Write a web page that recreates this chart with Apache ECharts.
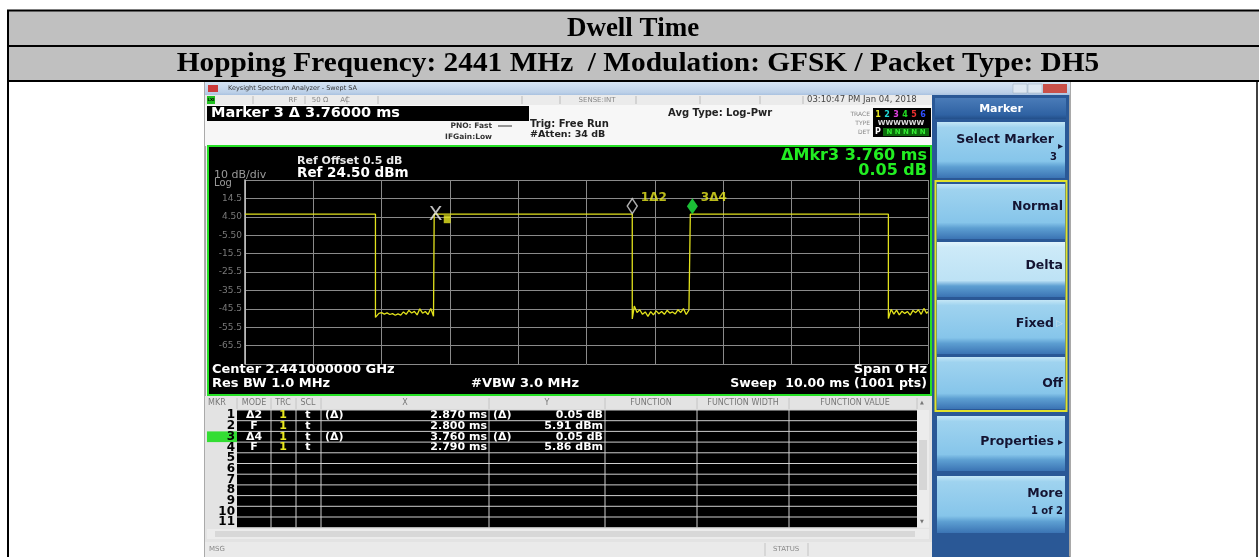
<!DOCTYPE html>
<html>
<head>
<meta charset="utf-8">
<title>Dwell Time</title>
<script src="https://cdn.jsdelivr.net/npm/echarts@6.0.0/dist/echarts.min.js"></script>
<style>
html, body { margin: 0; padding: 0; background: #fff; }
#chart { width: 1259px; height: 557px; }
</style>
</head>
<body>
<div id="chart"></div>
<script>
// ---- data ----
var titleText = 'Dwell Time';
var subTitleText = 'Hopping Frequency: 2441 MHz  / Modulation: GFSK / Packet Type: DH5';

// sweep 0..10 ms, ref 24.50 dBm, 10 dB/div
var sweepRange = [0, 10];
var refLevel = 24.5;
var yTickLabels = ['24.5', '14.5', '4.50', '-5.50', '-15.5', '-25.5', '-35.5', '-45.5', '-55.5', '-65.5', '-75.5'];

// burst level and edges (ms)
var pulseHigh = 5.9;
var pulseFall = [1.91, 5.67, 9.42];
var pulseRise = [2.77, 6.52];

// noise floor between bursts [ms, dBm]
var gapNoise1 = [[1.92, -50.2], [1.96, -48.0], [2.00, -47.6], [2.04, -48.4], [2.08, -47.7], [2.12, -48.6],
  [2.16, -48.1], [2.20, -49.0], [2.24, -48.3], [2.28, -48.9], [2.32, -47.2], [2.36, -48.5], [2.40, -46.4],
  [2.44, -47.8], [2.48, -46.9], [2.52, -48.8], [2.56, -45.5], [2.60, -47.9], [2.64, -47.0], [2.68, -48.6],
  [2.72, -45.3], [2.76, -49.5]];
var gapNoise2 = [[5.68, -51.0], [5.70, -44.0], [5.74, -47.5], [5.78, -46.0], [5.82, -48.5], [5.86, -47.2],
  [5.90, -49.6], [5.94, -47.0], [5.98, -48.8], [6.02, -46.6], [6.06, -48.2], [6.10, -47.0], [6.14, -48.5],
  [6.18, -46.3], [6.22, -47.8], [6.26, -47.2], [6.30, -48.3], [6.34, -46.0], [6.38, -47.5], [6.42, -45.4],
  [6.46, -48.6], [6.50, -46.2]];
var gapNoise3 = [[9.43, -50.8], [9.46, -45.8], [9.50, -48.4], [9.54, -46.2], [9.58, -48.8], [9.62, -46.8],
  [9.66, -48.0], [9.70, -47.0], [9.74, -48.9], [9.78, -46.4], [9.82, -47.6], [9.86, -46.0], [9.90, -48.5],
  [9.94, -45.3], [9.98, -48.0], [10.0, -47.0]];

// marker table
var mkrNum = ['1', '2', '3', '4', '5', '6', '7', '8', '9', '10', '11'];
var mkrMode = ['Δ2', 'F', 'Δ4', 'F'];
var mkrTrc = ['1', '1', '1', '1'];
var mkrScl = ['t', 't', 't', 't'];
var mkrXRef = ['(Δ)', '', '(Δ)', ''];
var mkrX = ['2.870 ms', '2.800 ms', '3.760 ms', '2.790 ms'];
var mkrYRef = ['(Δ)', '', '(Δ)', ''];
var mkrY = ['0.05 dB', '5.91 dBm', '0.05 dB', '5.86 dBm'];
// marker positions on the trace [ms, dBm]
var mkrPos = [[5.67, 5.96], [2.80, 5.91], [6.55, 5.91], [2.79, 5.86]];

var softKeys = ['Select Marker', 'Normal', 'Delta', 'Fixed', 'Off', 'Properties', 'More'];

// ---- build trace ----
var gaps = [gapNoise1, gapNoise2, gapNoise3];
var trace = [[sweepRange[0], pulseHigh]];
gaps.forEach(function (g, i) {
  trace.push([pulseFall[i], pulseHigh]);
  trace.push([pulseFall[i], g[0][1]]);
  g.forEach(function (p) { trace.push(p); });
  if (i < pulseRise.length) trace.push([pulseRise[i], pulseHigh]);
});

// ---- graphic helpers ----
var sans = '"DejaVu Sans", "Liberation Sans", sans-serif';
var serif = '"Liberation Serif", "Times New Roman", serif';
var G = [];
function rect(x, y, w, h, fill, stroke, lw, z) {
  G.push({ type: 'rect', z: z == null ? -5 : z, shape: { x: x, y: y, width: w, height: h },
    style: { fill: fill || 'none', stroke: stroke || null, lineWidth: lw || 0 } });
}
function line(x1, y1, x2, y2, color, lw, z) {
  G.push({ type: 'line', z: z == null ? -4 : z, shape: { x1: x1, y1: y1, x2: x2, y2: y2 },
    style: { stroke: color, lineWidth: lw || 1 } });
}
function text(x, y, s, font, color, align, sx) {
  G.push({ type: 'text', z: 20, x: x, y: y, scaleX: sx || 1,
    style: { text: s, font: font, fill: color, align: align || 'left', verticalAlign: 'middle' } });
}
function vgrad(c1, c2, c3) {
  return { type: 'linear', x: 0, y: 0, x2: 0, y2: 1,
    colorStops: [{ offset: 0, color: c1 }, { offset: 0.8, color: c2 }, { offset: 1, color: c3 }] };
}
function keyGrad(light) {
  return { type: 'linear', x: 0, y: 0, x2: 0, y2: 1,
    colorStops: [{ offset: 0, color: light ? '#e2f4fc' : '#c4e6f6' }, { offset: 0.1, color: light ? '#cdeaf8' : '#9fd3ef' },
      { offset: 0.7, color: light ? '#bde2f5' : '#86c5ea' }, { offset: 0.8, color: '#5d9fd2' }, { offset: 1, color: '#3b74b4' }] };
}

// document table
rect(7, 10, 1252, 71, '#c0c0c0');
line(7, 10.5, 1259, 10.5, '#000', 2);
line(7, 46, 1259, 46, '#000', 2);
line(7, 81, 1259, 81, '#000', 2);
line(8, 10, 8, 557, '#000', 2);
line(1257, 81, 1257, 557, '#000', 1.5);
text(633, 29, titleText, 'bold 27px ' + serif, '#000', 'center');
text(638, 64, subTitleText, 'bold 27px ' + serif, '#000', 'center', 1.087);

// analyzer window
rect(205, 82, 865, 475, '#f2f2f2', '#555', 1);
rect(205, 82, 865, 13, vgrad('#d6e4f3', '#bcd0e8', '#a9c2e0'));
rect(208, 85, 10, 7, '#cc3b3b');
text(228, 88.5, 'Keysight Spectrum Analyzer - Swept SA', '6.5px ' + sans, '#333');
rect(1013, 84, 14, 9, '#dde7f2', '#9ab', 0.5);
rect(1028, 84, 14, 9, '#dde7f2', '#9ab', 0.5);
rect(1043, 84, 24, 9, '#c95049');

// status row
rect(205, 95, 727, 10, '#ebebeb');
rect(207, 96, 8, 8, '#1fbf1f');
text(211, 100, 'LXI', 'bold 4px ' + sans, '#000', 'center');
[253, 305, 347, 378, 522, 560, 636, 700, 760, 803].forEach(function (x) { line(x, 96, x, 104, '#bbb', 1); });
text(293, 100, 'RF', '7px ' + sans, '#888', 'center');
text(320, 100, '50 Ω', '7px ' + sans, '#888', 'center');
text(345, 100, 'AC', '7px ' + sans, '#888', 'center');
text(597, 100, 'SENSE:INT', '7px ' + sans, '#888', 'center');
text(807, 100, '03:10:47 PM Jan 04, 2018', '8.5px ' + sans, '#444');

// marker header row
rect(205, 105, 727, 41, '#f7f7f7');
rect(207, 106, 322, 15, '#000');
text(211, 113.5, 'Marker 3 Δ 3.76000 ms', 'bold 14.5px ' + sans, '#fff');
text(492, 126, 'PNO: Fast', 'bold 7.5px ' + sans, '#333', 'right');
line(498, 126, 512, 126, '#333', 1);
text(492, 137, 'IFGain:Low', 'bold 7.5px ' + sans, '#333', 'right');
text(530, 124, 'Trig: Free Run', 'bold 10px ' + sans, '#222');
text(530, 135, '#Atten: 34 dB', 'bold 9.5px ' + sans, '#222');
text(668, 113, 'Avg Type: Log-Pwr', 'bold 10px ' + sans, '#222');
text(870, 114, 'TRACE', '6px ' + sans, '#888', 'right');
text(870, 123, 'TYPE', '6px ' + sans, '#888', 'right');
text(870, 132, 'DET', '6px ' + sans, '#888', 'right');
rect(873, 108, 58, 29, '#000');
['#e8e820', '#22d8d8', '#e040e0', '#22dd22', '#ee3030', '#3050ff'].forEach(function (c, i) {
  text(878 + i * 9, 115, String(i + 1), 'bold 8px ' + sans, c, 'center');
});
text(901, 123, 'WWWWWW', 'bold 7px ' + sans, '#ddd', 'center');
text(878, 132, 'P', 'bold 8px ' + sans, '#fff', 'center');
rect(883, 128, 46, 8, '#0b6a0b');
text(906, 132, 'N N N N N', 'bold 7px ' + sans, '#33ee33', 'center');

// graph panel
rect(208, 146, 723, 249, '#000', '#25e025', 2);
text(297, 161, 'Ref Offset 0.5 dB', 'bold 11px ' + sans, '#e8e8e8');
text(297, 173, 'Ref 24.50 dBm', 'bold 13.5px ' + sans, '#fff');
text(214, 175, '10 dB/div', '11px ' + sans, '#9a9a9a');
text(214, 183, 'Log', '10px ' + sans, '#9a9a9a');
text(927, 156, 'ΔMkr3 3.760 ms', 'bold 16px ' + sans, '#22ee22', 'right');
text(927, 171, '0.05 dB', 'bold 16px ' + sans, '#22ee22', 'right');
text(212, 370, 'Center 2.441000000 GHz', 'bold 13px ' + sans, '#fff');
text(212, 384, 'Res BW 1.0 MHz', 'bold 13px ' + sans, '#fff');
text(471, 384, '#VBW 3.0 MHz', 'bold 13px ' + sans, '#fff');
text(927, 370, 'Span 0 Hz', 'bold 13px ' + sans, '#fff', 'right');
text(927, 384, 'Sweep  10.00 ms (1001 pts)', 'bold 12.5px ' + sans, '#fff', 'right');

// marker table
var colSep = [237, 271, 296, 321, 489, 605, 697, 789, 917];
var rowTop = 410, rowH = 10.7;
var hdrFont = '8px ' + sans;
rect(205, 396, 727, 146, '#e3e3e3');
text(208, 403, 'MKR', hdrFont, '#777');
text(254, 403, 'MODE', hdrFont, '#777', 'center');
text(283, 403, 'TRC', hdrFont, '#777', 'center');
text(308, 403, 'SCL', hdrFont, '#777', 'center');
text(405, 403, 'X', hdrFont, '#777', 'center');
text(547, 403, 'Y', hdrFont, '#777', 'center');
text(651, 403, 'FUNCTION', hdrFont, '#777', 'center');
text(743, 403, 'FUNCTION WIDTH', hdrFont, '#777', 'center');
text(855, 403, 'FUNCTION VALUE', hdrFont, '#777', 'center');
text(922, 403, '▲', '5px ' + sans, '#777', 'center');
colSep.forEach(function (x) { line(x, 398, x, 409, '#c4c4c4', 1); });
rect(237, rowTop, 680, rowH * 11, '#000');
rect(207, rowTop + rowH * 2, 30, rowH, '#33dd33');
for (var r = 0; r <= 11; r++) line(237, rowTop + r * rowH, 917, rowTop + r * rowH, '#cfcfcf', 1);
colSep.slice(1, 8).forEach(function (x) { line(x, rowTop, x, rowTop + rowH * 11, '#cfcfcf', 1); });
var cellFont = 'bold 11px ' + sans;
mkrNum.forEach(function (n, i) {
  var y = rowTop + rowH * (i + 0.5);
  text(235, y, n, 'bold 12px ' + sans, '#000', 'right');
  if (i < mkrMode.length) {
    text(254, y, mkrMode[i], cellFont, '#fff', 'center');
    text(283, y, mkrTrc[i], cellFont, '#e8e820', 'center');
    text(308, y, mkrScl[i], cellFont, '#fff', 'center');
    text(325, y, mkrXRef[i], cellFont, '#fff');
    text(487, y, mkrX[i], cellFont, '#fff', 'right');
    text(493, y, mkrYRef[i], cellFont, '#fff');
    text(603, y, mkrY[i], cellFont, '#fff', 'right');
  }
});
rect(917, rowTop, 12, rowH * 11, '#ececec');
rect(919, 440, 8, 50, '#d6d6d6');
text(922, 522, '▼', '5px ' + sans, '#777', 'center');
rect(207, 529, 722, 10, '#ececec');
rect(215, 531, 700, 6, '#d8d8d8');
rect(205, 542, 727, 15, '#eaeaea');
text(209, 549, 'MSG', '7px ' + sans, '#888');
line(765, 543, 765, 556, '#c4c4c4', 1);
line(808, 543, 808, 556, '#c4c4c4', 1);
text(773, 549, 'STATUS', '7px ' + sans, '#888');

// soft keys
rect(932, 95, 137, 462, '#2a5896');
rect(935, 98, 131, 21, vgrad('#4a7bb8', '#2f62a3', '#234f8a'));
text(1001, 109, 'Marker', 'bold 11px ' + sans, '#fff', 'center');
var keyBoxes = [[122, 56], [184, 55], [242, 55], [300, 54], [357, 52], [416, 55], [476, 57]];
keyBoxes.forEach(function (b, i) {
  rect(937, b[0], 128, b[1], keyGrad(i === 2));
});
rect(935.5, 181, 131, 230, 'none', '#e2e22a', 2, -3);
var keyFont = 'bold 12.5px ' + sans, keyColor = '#141432';
text(1054, 140, softKeys[0], keyFont, keyColor, 'right');
text(1063, 146, '▸', '10px ' + sans, keyColor, 'right');
text(1057, 157, '3', 'bold 10px ' + sans, keyColor, 'right');
text(1063, 207, softKeys[1], keyFont, keyColor, 'right');
text(1063, 266, softKeys[2], keyFont, keyColor, 'right');
text(1054, 324, softKeys[3], keyFont, keyColor, 'right');
text(1063, 324, '▷', '9px ' + sans, '#ccdde8', 'right');
text(1054, 442, softKeys[5], keyFont, keyColor, 'right');
text(1063, 442, '▸', '10px ' + sans, keyColor, 'right');
text(1063, 384, softKeys[4], keyFont, keyColor, 'right');
text(1063, 494, softKeys[6], keyFont, keyColor, 'right');
text(1063, 511, '1 of 2', 'bold 10px ' + sans, keyColor, 'right');

// ---- chart ----
var myChart = echarts.init(document.getElementById('chart'));

var markerLabel = { show: true, position: 'right', distance: 3, offset: [0, -8], color: '#e8e820',
  fontWeight: 'bold', fontSize: 12, fontFamily: sans };

var option = {
  animation: false,
  graphic: { elements: G },
  grid: { left: 245, top: 180, width: 683, height: 184, containLabel: false },
  xAxis: {
    type: 'value', min: sweepRange[0], max: sweepRange[1], interval: 1,
    axisLine: { show: false }, axisTick: { show: false }, axisLabel: { show: false },
    splitLine: { show: true, lineStyle: { color: '#8a8a8a', width: 1 } }
  },
  yAxis: {
    type: 'value', min: refLevel - 100, max: refLevel, interval: 10,
    axisLine: { show: true, lineStyle: { color: '#c8c8c8', width: 1.5 } },
    axisTick: { show: false },
    axisLabel: {
      color: '#7a7a7a', fontSize: 9, fontFamily: sans, margin: 3,
      formatter: function (v) {
        var i = Math.round((refLevel - v) / 10);
        return (i <= 0 || i >= 10) ? '' : yTickLabels[i];
      }
    },
    splitLine: { show: true, lineStyle: { color: '#8a8a8a', width: 1 } }
  },
  series: [
    {
      type: 'line', data: trace, symbol: 'none', z: 5,
      lineStyle: { color: '#e2e21c', width: 1.3 }
    },
    {
      type: 'scatter', data: [mkrPos[0]], symbol: 'diamond', symbolSize: [10, 15], symbolOffset: [0, -8], z: 6,
      itemStyle: { color: '#000', borderColor: '#d8d8d8', borderWidth: 1.5 },
      label: Object.assign({ formatter: '1' + mkrMode[0] }, markerLabel)
    },
    {
      type: 'scatter', data: [mkrPos[2]], symbol: 'diamond', symbolSize: [11, 16], symbolOffset: [0, -8], z: 7,
      itemStyle: { color: '#22ee44' },
      label: Object.assign({ formatter: '3' + mkrMode[2] }, markerLabel)
    },
    {
      type: 'scatter', data: [mkrPos[1]], symbol: 'rect', symbolSize: [7, 8], symbolOffset: [11, 5], z: 6,
      itemStyle: { color: '#e8e820' }
    },
    {
      type: 'scatter', data: [mkrPos[3]], symbol: 'rect', symbolSize: 1, z: 7,
      itemStyle: { color: 'rgba(0,0,0,0)' },
      label: { show: true, formatter: 'X', position: 'inside', color: '#f0f0f0', fontSize: 20, fontFamily: sans }
    }
  ]
};

myChart.setOption(option);
</script>
</body>
</html>
